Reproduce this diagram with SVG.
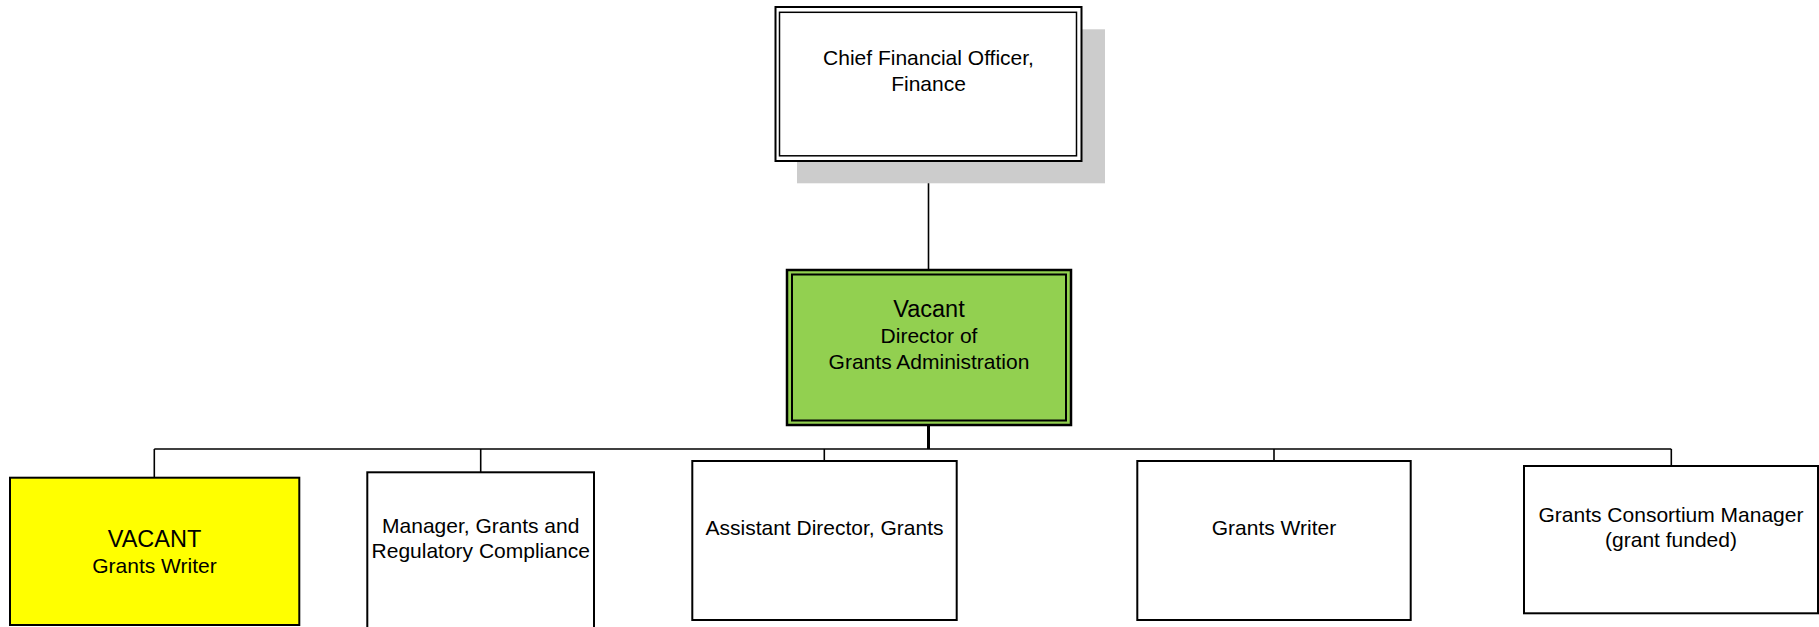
<svg xmlns="http://www.w3.org/2000/svg" width="1819" height="627" viewBox="0 0 1819 627">
<style>
text { font-family: "Liberation Sans", Arial, sans-serif; fill: #000; text-anchor: middle; }
.t21 { font-size: 21px; }
.t24 { font-size: 23.5px; }
.box { stroke: #000; stroke-width: 2; }
.conn line { stroke: #000; stroke-width: 1.6; }
</style>
<rect width="1819" height="627" fill="#fff"/>
<g id="connectors" class="conn">
  <line x1="928.5" y1="161" x2="928.5" y2="270"/>
  <line x1="928.5" y1="425" x2="928.5" y2="449" style="stroke-width:3"/>
  <line x1="154.3" y1="449" x2="1671.3" y2="449"/>
  <line x1="154.3" y1="449" x2="154.3" y2="478"/>
  <line x1="480.7" y1="449" x2="480.7" y2="472.5"/>
  <line x1="824.3" y1="449" x2="824.3" y2="461"/>
  <line x1="1274" y1="449" x2="1274" y2="461"/>
  <line x1="1671.3" y1="449" x2="1671.3" y2="466"/>
</g>
<g id="cfo">
  <rect x="797" y="29.3" width="308" height="154" fill="#cccccc"/>
  <rect x="775.5" y="7" width="306" height="154" fill="#fff" stroke="#000" stroke-width="2"/>
  <rect x="779.5" y="12.3" width="297" height="143.5" fill="none" stroke="#000" stroke-width="1.5"/>
  <text class="t21" x="928.5" y="65">Chief Financial Officer,</text>
  <text class="t21" x="928.5" y="91">Finance</text>
</g>
<g id="director">
  <rect x="787" y="270" width="284" height="155" fill="#92d050" stroke="#000" stroke-width="2.5"/>
  <rect x="792" y="274.5" width="274" height="146" fill="none" stroke="#000" stroke-width="2"/>
  <text class="t24" x="929" y="317">Vacant</text>
  <text class="t21" x="929" y="343">Director of</text>
  <text class="t21" x="929" y="369">Grants Administration</text>
</g>
<g id="vacant-grants-writer">
  <rect class="box" x="10" y="477.7" width="289.3" height="147.3" fill="#ffff00"/>
  <text class="t24" x="154.5" y="547">VACANT</text>
  <text class="t21" x="154.5" y="573">Grants Writer</text>
</g>
<g id="manager-grants">
  <rect class="box" x="367.3" y="472.3" width="226.7" height="165" fill="#fff"/>
  <text class="t21" x="480.7" y="533">Manager, Grants and</text>
  <text class="t21" x="480.7" y="558">Regulatory Compliance</text>
</g>
<g id="assistant-director">
  <rect class="box" x="692.3" y="461" width="264.4" height="159" fill="#fff"/>
  <text class="t21" x="824.5" y="535">Assistant Director, Grants</text>
</g>
<g id="grants-writer">
  <rect class="box" x="1137.3" y="461" width="273.4" height="159" fill="#fff"/>
  <text class="t21" x="1274" y="535">Grants Writer</text>
</g>
<g id="consortium-manager">
  <rect class="box" x="1524" y="466" width="294" height="147.3" fill="#fff"/>
  <text class="t21" x="1671" y="522">Grants Consortium Manager</text>
  <text class="t21" x="1671" y="547">(grant funded)</text>
</g>
</svg>
